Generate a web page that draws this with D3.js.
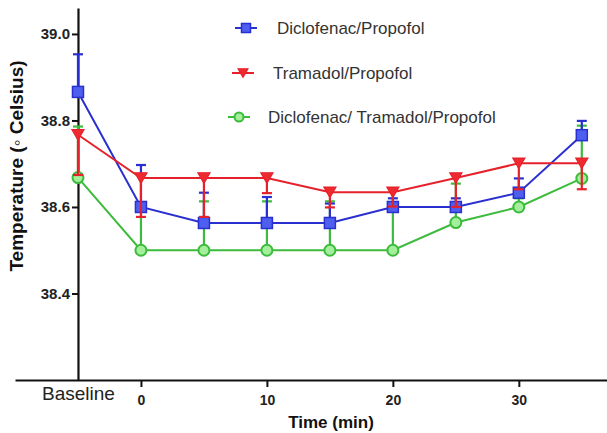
<!DOCTYPE html>
<html>
<head>
<meta charset="utf-8">
<script src="https://cdn.jsdelivr.net/npm/d3@7"></script>
<style>
  html, body { margin: 0; padding: 0; background: #fff; }
  svg { display: block; font-family: "Liberation Sans", Arial, sans-serif; }
</style>
</head>
<body>
<svg id="chart" width="607" height="433"></svg>
<script>
// ---- data ----
const timePoints = [-5, 0, 5, 10, 15, 20, 25, 30, 35];   // -5 = Baseline
const xTickValues = [-5, 0, 10, 20, 30];
const xTickLabels = ["Baseline", "0", "10", "20", "30"];
const yTickValues = [38.4, 38.6, 38.8, 39.0];

const seriesNames = ["Diclofenac/Propofol", "Tramadol/Propofol", "Diclofenac/ Tramadol/Propofol"];
const dicloMean = [38.866, 38.600, 38.563, 38.563, 38.563, 38.600, 38.600, 38.633, 38.766];
const dicloErr  = [0.087, 0.097, 0.070, 0.060, 0.045, 0.020, 0.020, 0.033, 0.033];
const tramaMean = [38.767, 38.667, 38.667, 38.667, 38.634, 38.634, 38.667, 38.701, 38.701];
const tramaErr  = [0.093, 0.090, 0.090, 0.035, 0.035, 0.033, 0.067, 0.060, 0.060];
const comboMean = [38.668, 38.500, 38.500, 38.500, 38.500, 38.500, 38.564, 38.600, 38.666];
const comboErr  = [0.118, 0.100, 0.113, 0.113, 0.113, 0.100, 0.090, 0.020, 0.122];

// ---- styles ----
const series = [
  { name: seriesNames[2], mean: comboMean, err: comboErr, dir: 1, line: "#3dbb3d", fill: "#a3ef9b", shape: "circle" },
  { name: seriesNames[0], mean: dicloMean, err: dicloErr, dir: 1, line: "#2a2fcf", fill: "#4e5ff0", shape: "square" },
  { name: seriesNames[1], mean: tramaMean, err: tramaErr, dir: -1, line: "#e5222b", fill: "#ee2a30", shape: "triangle" }
];

const svg = d3.select("#chart");
const x = d3.scaleLinear().domain([-10, 37]).range([15, 607]);
const y = d3.scaleLinear().domain([38.2, 39.06]).range([380, 8]);

// ---- axes ----
const xAxis = svg.append("g")
  .attr("transform", `translate(0,${y(38.2)})`)
  .call(d3.axisBottom(x).tickValues(xTickValues).tickSizeInner(7).tickSizeOuter(0)
        .tickFormat((d, i) => xTickLabels[i]));
xAxis.select(".domain").attr("stroke", "#111").attr("stroke-width", 2.2);
xAxis.selectAll(".tick line").attr("stroke", "#111").attr("stroke-width", 2)
  .attr("display", d => d === -5 ? "none" : null);
xAxis.selectAll(".tick text")
  .attr("fill", "#222")
  .attr("dy", null)
  .attr("y", d => d === -5 ? 20 : 25)
  .style("font-size", d => d === -5 ? "19px" : "14px")
  .style("font-weight", d => d === -5 ? "normal" : "bold");

const yAxis = svg.append("g")
  .attr("transform", `translate(${x(-5)},0)`)
  .call(d3.axisLeft(y).tickValues(yTickValues).tickSizeInner(6).tickSizeOuter(0)
        .tickFormat(d3.format(".1f")));
yAxis.select(".domain").attr("stroke", "#111").attr("stroke-width", 2.2);
yAxis.selectAll(".tick line").attr("stroke", "#111").attr("stroke-width", 2);
yAxis.selectAll(".tick text").attr("fill", "#222").attr("x", -8)
  .style("font-size", "15px").style("font-weight", "bold");

// axis titles
svg.append("text")
  .attr("x", 331).attr("y", 428).attr("text-anchor", "middle")
  .style("font-size", "17px").style("font-weight", "bold").attr("fill", "#111")
  .text("Time (min)");
svg.append("text")
  .attr("transform", "translate(23,166) rotate(-90)")
  .attr("text-anchor", "middle")
  .style("font-size", "19px").style("font-weight", "bold").attr("fill", "#111")
  .text("Temperature (\u25E6 Celsius)");

// ---- marker helper ----
function drawMarker(g, shape, cx, cy, s, fill, stroke) {
  if (shape === "square") {
    g.append("rect").attr("x", cx - s / 2).attr("y", cy - s / 2).attr("width", s).attr("height", s)
      .attr("fill", fill).attr("stroke", stroke).attr("stroke-width", 1.5);
  } else if (shape === "circle") {
    g.append("circle").attr("cx", cx).attr("cy", cy).attr("r", s / 2)
      .attr("fill", fill).attr("stroke", stroke).attr("stroke-width", 2);
  } else {
    const w = s * 1.1, h = s * 0.95;
    g.append("path")
      .attr("d", `M${cx - w / 2},${cy - h / 2}L${cx + w / 2},${cy - h / 2}L${cx},${cy + h / 2}Z`)
      .attr("fill", fill).attr("stroke", stroke).attr("stroke-width", 1.2);
  }
}

// ---- series ----
const line = d3.line().x(d => x(d[0])).y(d => y(d[1]));
series.forEach(s => {
  const g = svg.append("g");
  const pts = timePoints.map((t, i) => [t, s.mean[i], s.err[i]]);
  // error bars
  pts.forEach(p => {
    const y0 = y(p[1]), y1 = y(p[1] + s.dir * p[2]);
    g.append("line").attr("x1", x(p[0])).attr("x2", x(p[0])).attr("y1", y0).attr("y2", y1)
      .attr("stroke", s.line).attr("stroke-width", 2.2);
    g.append("line").attr("x1", x(p[0]) - 5).attr("x2", x(p[0]) + 5).attr("y1", y1).attr("y2", y1)
      .attr("stroke", s.line).attr("stroke-width", 2.2);
  });
  g.append("path").datum(pts).attr("d", line).attr("fill", "none")
    .attr("stroke", s.line).attr("stroke-width", 2);
  pts.forEach(p => drawMarker(g, s.shape, x(p[0]), y(p[1]), 11, s.fill, s.line));
});

// ---- legend ----
const legendItems = [
  { s: series[1], lx: 235, ly: 28, tx: 277 },
  { s: series[2], lx: 232, ly: 73, tx: 273 },
  { s: series[0], lx: 228, ly: 117, tx: 268 }
];
legendItems.forEach(it => {
  const g = svg.append("g");
  g.append("line").attr("x1", it.lx).attr("x2", it.lx + 22).attr("y1", it.ly).attr("y2", it.ly)
    .attr("stroke", it.s.line).attr("stroke-width", 2);
  drawMarker(g, it.s.shape, it.lx + 11, it.ly, 9, it.s.fill, it.s.line);
  g.append("text").attr("x", it.tx).attr("y", it.ly + 6)
    .style("font-size", "17px").attr("fill", "#333").text(it.s.name);
});
</script>
</body>
</html>
